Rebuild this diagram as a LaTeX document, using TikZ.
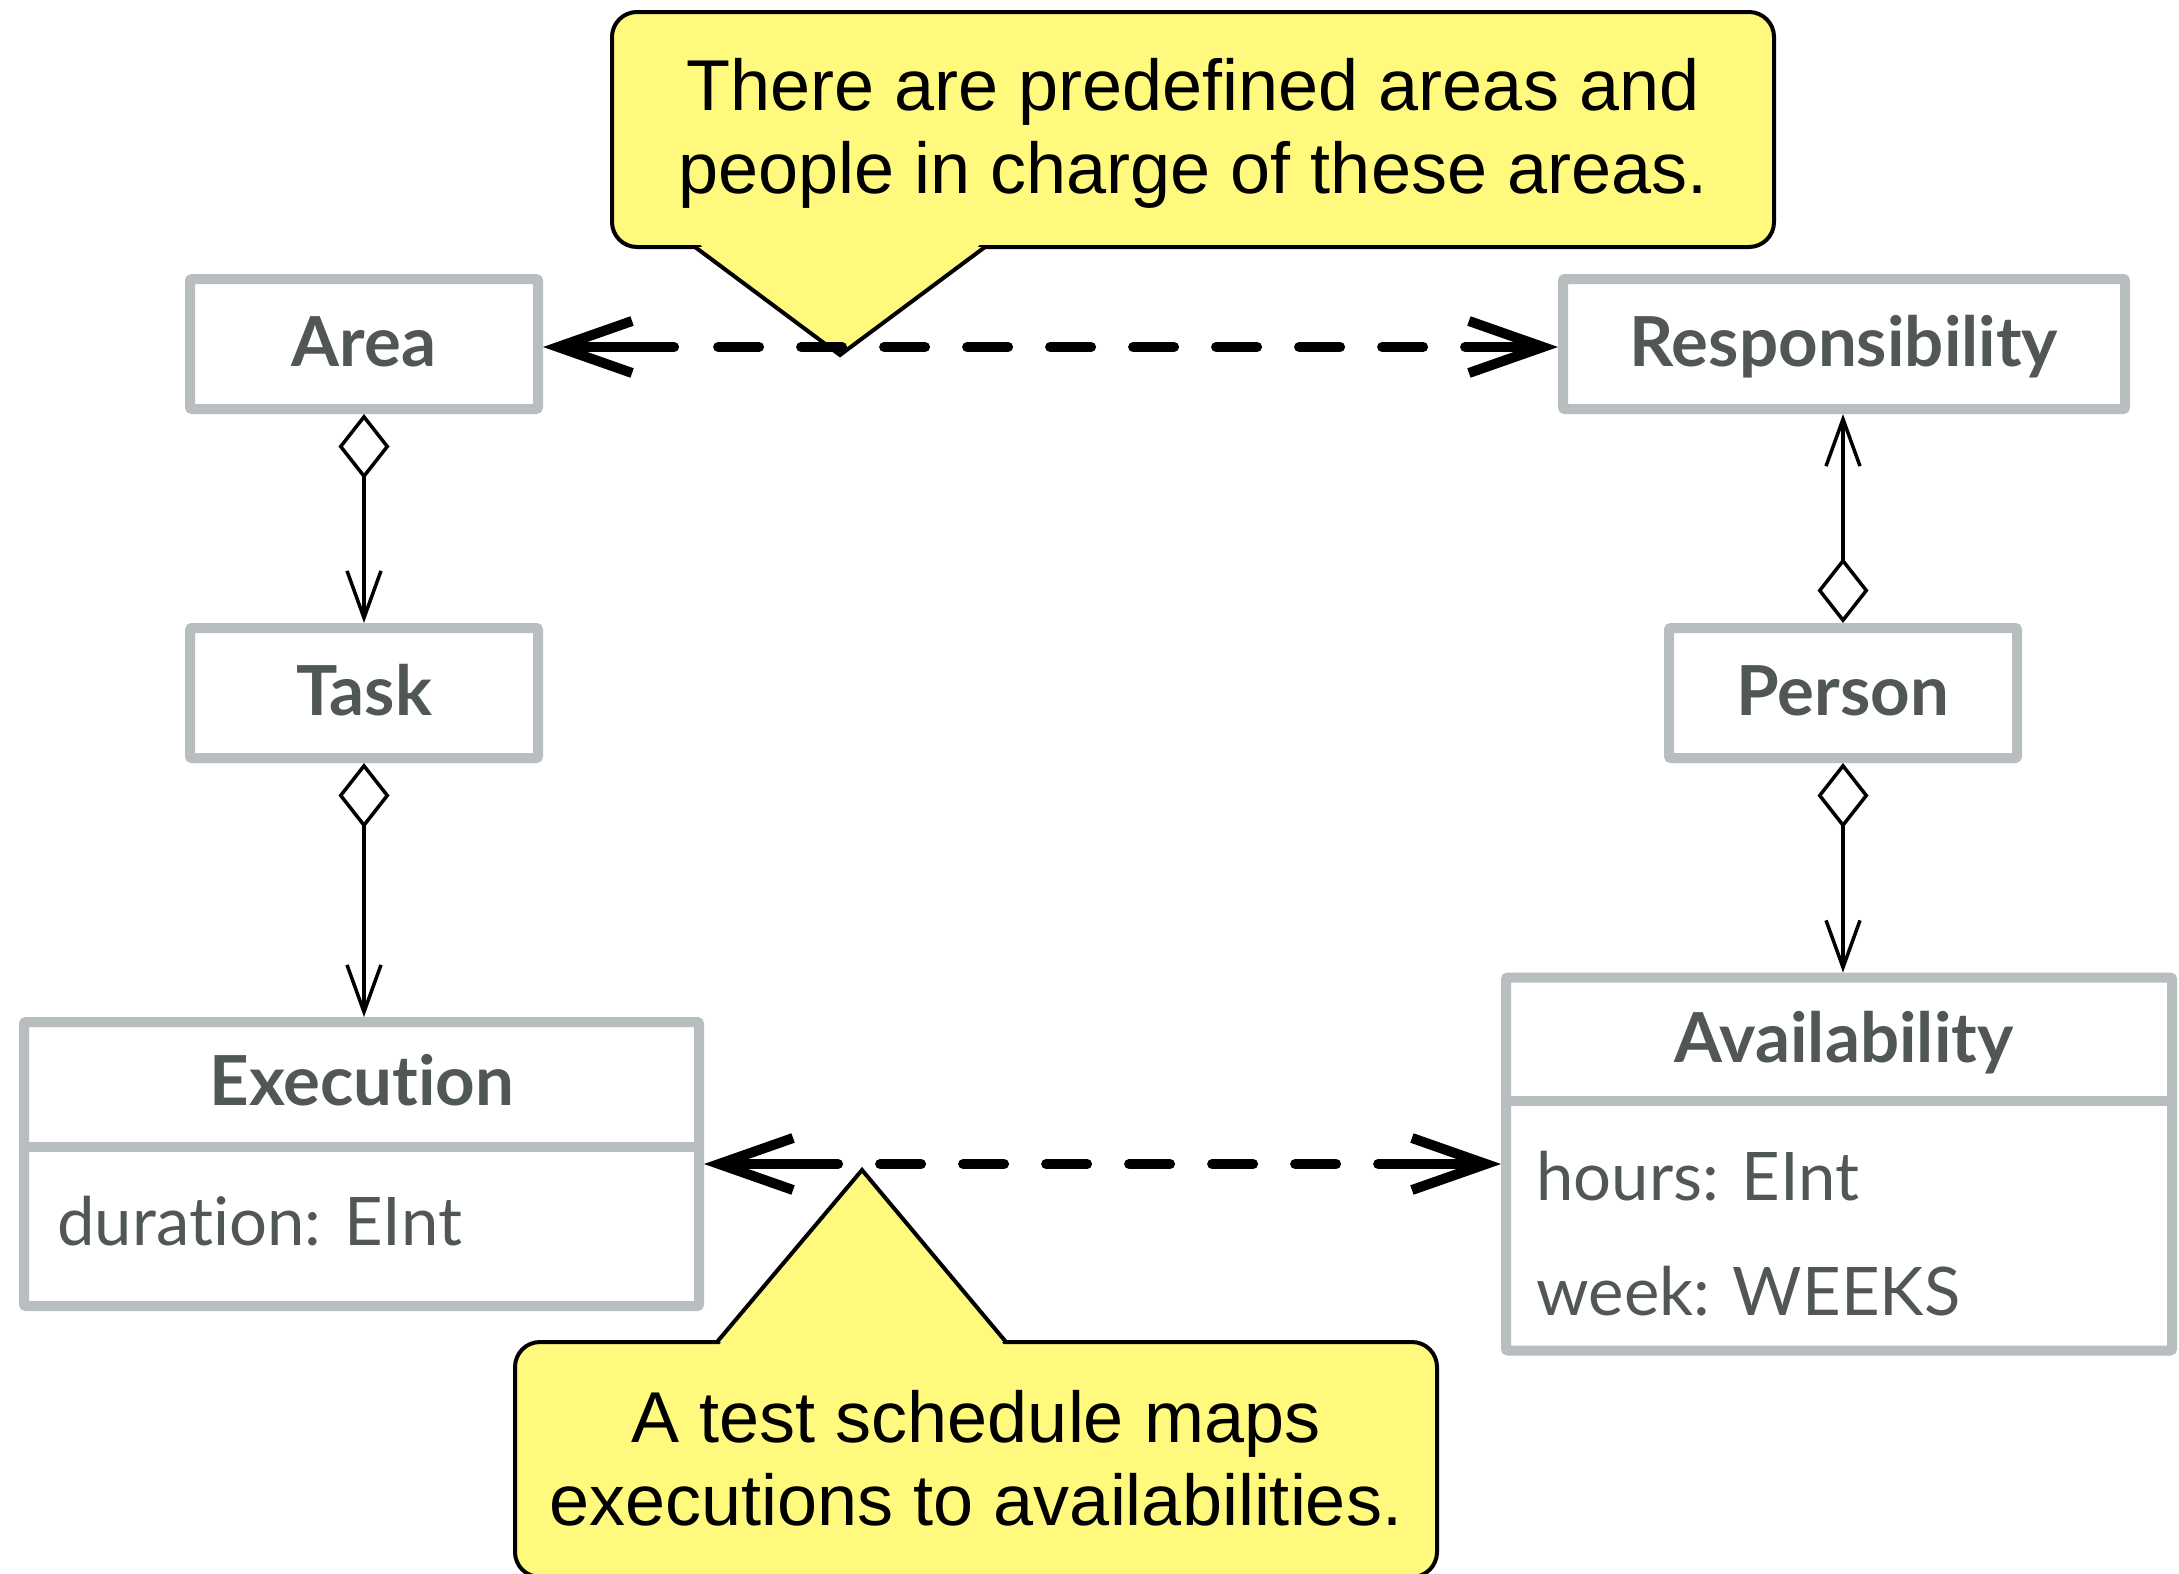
\documentclass[tikz,border=0pt]{standalone}
\usepackage{fontspec}
\setmainfont{Liberation Sans}
\newfontfamily\umlfont{Lato}[Ligatures=NoCommon]
\usetikzlibrary{arrows.meta}

\definecolor{boxgrey}{RGB}{184,189,191}
\definecolor{labelgrey}{RGB}{81,87,87}
\definecolor{noteyellow}{RGB}{255,250,125}

\begin{document}
\begin{tikzpicture}[x=0.5pt,y=-0.5pt,
  classbox/.style={draw=boxgrey, line width=5pt, rounded corners=1pt, fill=white,
    inner sep=0pt, minimum height=65pt, text height=22pt, text depth=0pt,
    text=labelgrey, font=\umlfont\bfseries\fontsize{34.5pt}{41pt}\selectfont},
  classtitle/.style={inner sep=0pt, text=labelgrey,
    font=\umlfont\bfseries\fontsize{34.5pt}{41pt}\selectfont},
  attr/.style={inner sep=0pt, text=labelgrey,
    font=\umlfont\fontsize{33.5pt}{40pt}\selectfont},
  divider/.style={draw=boxgrey, line width=5pt},
  note/.style={fill=noteyellow, draw=black, line width=2pt, rounded corners=12.5pt},
  notetip/.style={fill=noteyellow, draw=black, line width=2pt, line join=miter},
  notetext/.style={inner sep=0pt, text=black, font=\fontsize{36pt}{41.5pt}\selectfont},
  assoc/.style={draw=black, line width=1.75pt,
    {Diamond[open, length=32.5pt, width=25.5pt]}-{Straight Barb[sharp, length=23.5pt, width=17pt]}},
  dep/.style={draw=black, line width=5pt, line cap=round,
    {Straight Barb[sharp, length=37pt, width=26pt]}-{Straight Barb[sharp, length=37pt, width=26pt]}}
]
\useasboundingbox (0,0) rectangle (2179,1574);
\clip (0,0) rectangle (2179,1574);
\fill[white] (0,0) rectangle (2179,1574);

% --- callout: areas and responsibilities ---
\filldraw[note] (612,12) rectangle (1774,247);
\filldraw[notetip] (695,247) -- (840,355) -- (985,247);
\fill[noteyellow] (700,244) -- (980,244) -- (975,251) -- (705,251) -- cycle;
\node[notetext, anchor=base] (note1a) at (1193,110) {There are predefined areas and};
\node[notetext, anchor=base] (note1b) at (1193,193) {people in charge of these areas.};

% --- callout: test schedule ---
\filldraw[note] (515,1342) rectangle (1437,1577);
\filldraw[notetip] (717,1342) -- (862,1170) -- (1006,1342);
\fill[noteyellow] (724,1338) -- (999,1338) -- (1004,1345) -- (719,1345) -- cycle;
\node[notetext, anchor=base] (note2a) at (976,1442) {A test schedule maps};
\node[notetext, anchor=base] (note2b) at (976,1525) {executions to availabilities.};

% --- classes ---
\node[classbox, minimum width=174pt] (area) at (364,344) {Area};
\node[classbox, minimum width=174pt] (task) at (364,693) {Task};
\node[classbox, minimum width=281pt] (resp) at (1844,344) {Responsibility};
\node[classbox, minimum width=174pt] (person) at (1843,693) {Person};

\node[classbox, minimum width=337.5pt, minimum height=142pt] (exec) at (361.5,1164) {};
\coordinate (execdiv) at (0,1147);
\draw[divider] (exec.west |- execdiv) -- (exec.east |- execdiv);
\node[classtitle, anchor=base] (exectitle) at (362,1105) {Execution};
\node[attr, anchor=base west] (duration) at (57,1245) {duration: EInt};

\node[classbox, minimum width=333pt, minimum height=186.5pt] (avail) at (1839,1164) {};
\coordinate (availdiv) at (0,1101);
\draw[divider] (avail.west |- availdiv) -- (avail.east |- availdiv);
\node[classtitle, anchor=base] (availtitle) at (1844,1062) {Availability};
\node[attr, anchor=base west] (hours) at (1536,1200) {hours: EInt};
\node[attr, anchor=base west] (week) at (1536,1315) {week: WEEKS};

% --- aggregations ---
\draw[assoc] (area.south) -- (area.south |- task.north);
\draw[assoc] (task.south) -- (task.south |- exec.north);
\draw[assoc] (person.north) -- (person.north |- resp.south);
\draw[assoc] (person.south) -- (person.south |- avail.north);

% --- dependencies ---
\draw[dep, dash pattern=on 55.5pt off 22pt
  on 20.5pt off 21pt on 20.5pt off 21pt on 20.5pt off 21pt
  on 20.5pt off 21pt on 20.5pt off 21pt on 20.5pt off 21pt
  on 20.5pt off 21pt on 20.5pt off 21pt on 20.5pt off 21pt
  on 100pt off 1pt] ([yshift=-1.5pt]area.east) -- ([yshift=-1.5pt]resp.west);
\draw[dep, dash pattern=on 57pt off 21pt
  on 20.5pt off 21pt on 20.5pt off 21pt on 20.5pt off 21pt
  on 20.5pt off 21pt on 20.5pt off 21pt on 20.5pt off 21pt
  on 100pt off 1pt] (exec.east) -- (avail.west);
\end{tikzpicture}
\end{document}
